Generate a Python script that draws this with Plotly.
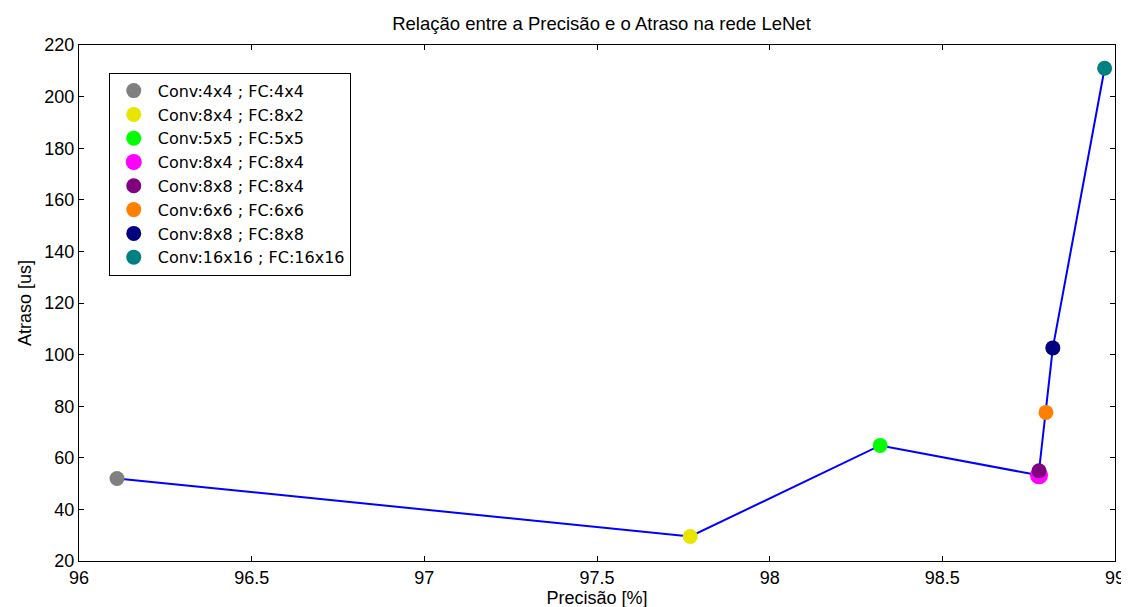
import plotly.graph_objects as go

labels = ["Conv:4x4 ; FC:4x4", "Conv:8x4 ; FC:8x2", "Conv:5x5 ; FC:5x5",
          "Conv:8x4 ; FC:8x4", "Conv:8x8 ; FC:8x4", "Conv:6x6 ; FC:6x6",
          "Conv:8x8 ; FC:8x8", "Conv:16x16 ; FC:16x16"]
precisao = [96.11, 97.77, 98.32, 98.78, 98.78, 98.80, 98.82, 98.97]
atraso = [52.0, 29.5, 64.8, 53.2, 55.0, 77.6, 102.6, 211.0]
colors = ["#808080", "#E6E600", "#00FF00", "#FF00FF", "#800080", "#FF8000", "#000080", "#008080"]
sizes = [15, 15, 15, 18, 15, 15, 15, 15]

FONT = "Liberation Sans, Arial, sans-serif"
FS = 18

fig = go.Figure()
fig.add_trace(go.Scatter(x=precisao, y=atraso, mode="lines",
                         line=dict(color="#0000FF", width=2), showlegend=False, hoverinfo="skip"))
for lab, xv, yv, c, s in zip(labels, precisao, atraso, colors, sizes):
    fig.add_trace(go.Scatter(x=[xv], y=[yv], mode="markers", name=lab,
                             marker=dict(color=c, size=s, line=dict(width=0))))

axis_common = dict(showline=True, linecolor="black", linewidth=1, mirror="ticks",
                   ticks="inside", ticklen=5, tickcolor="black", showgrid=False,
                   zeroline=False, tickfont=dict(size=FS, color="black", family=FONT))
fig.update_xaxes(range=[96, 99], dtick=0.5, tick0=96,
                 title=dict(text="Precisão [%]", font=dict(size=FS, color="black", family=FONT), standoff=3),
                 **axis_common)
fig.update_yaxes(range=[20, 220], dtick=20, tick0=20,
                 title=dict(text="Atraso [us]", font=dict(size=FS, color="black", family=FONT), standoff=8),
                 **axis_common)
fig.update_layout(
    width=1129, height=607,
    margin=dict(l=71, r=13, t=37, b=48),
    paper_bgcolor="white", plot_bgcolor="white",
    font=dict(family=FONT, color="black", size=FS),
    title=dict(text="Relação entre a Precisão e o Atraso na rede LeNet",
               x=(71 + 1116) / 2 / 1129, xanchor="center", y=1 - 16 / 607, yanchor="middle",
               font=dict(size=18.5, color="black", family=FONT)),
    legend=dict(x=30 / 1045, y=(559 - 65) / 522, xanchor="left", yanchor="top",
                bordercolor="black", borderwidth=1, bgcolor="white", itemwidth=38,
                font=dict(size=16, color="black", family="DejaVu Sans, sans-serif"), tracegroupgap=0),
)
fig.write_html("out.html")
